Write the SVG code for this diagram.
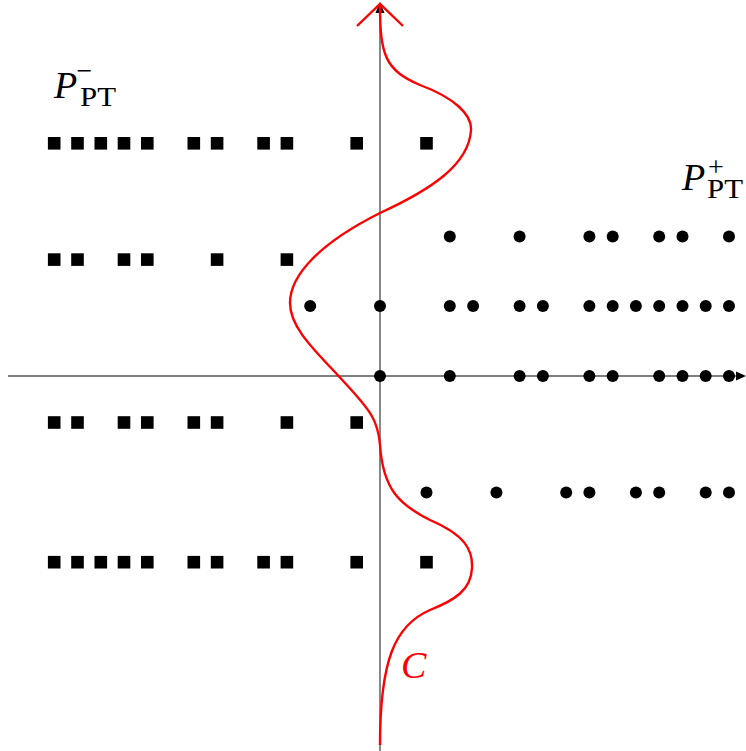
<svg xmlns="http://www.w3.org/2000/svg" width="746" height="751" viewBox="0 0 746 751">
<style>
.sq{fill:#000}
.dt{fill:#000}
.axis{stroke:#555;stroke-width:1.4;fill:none}
.curve{stroke:#f00;stroke-width:2.4;fill:none}
.lbl{font-family:'Liberation Serif','Times New Roman','DejaVu Serif',serif;fill:#000}
</style>
<defs>
<rect id="s" x="-6.3" y="-6.3" width="12.6" height="12.6"/>
<circle id="d" r="6"/>
</defs>
<rect width="746" height="751" fill="#fff"/>
<g id="axes">
<line class="axis" x1="8" y1="376" x2="740" y2="376"/>
<line class="axis" x1="380" y1="751" x2="380" y2="10"/>
<path d="M746,376 L736,371.5 L736,380.5 Z" fill="#000"/>
<path d="M380,2 L375.5,13 L384.5,13 Z" fill="#000"/>
</g>
<g id="squares" class="sq">
<use href="#s" x="54.2" y="143.3"/><use href="#s" x="77.5" y="143.3"/><use href="#s" x="100.8" y="143.3"/><use href="#s" x="124" y="143.3"/><use href="#s" x="147.3" y="143.3"/><use href="#s" x="193.8" y="143.3"/><use href="#s" x="217.1" y="143.3"/><use href="#s" x="263.6" y="143.3"/><use href="#s" x="286.9" y="143.3"/><use href="#s" x="356.7" y="143.3"/><use href="#s" x="426.5" y="143.3"/>
<use href="#s" x="54.2" y="259.6"/><use href="#s" x="77.5" y="259.6"/><use href="#s" x="124" y="259.6"/><use href="#s" x="147.3" y="259.6"/><use href="#s" x="217.1" y="259.6"/><use href="#s" x="286.9" y="259.6"/>
<use href="#s" x="54.2" y="422.5"/><use href="#s" x="77.5" y="422.5"/><use href="#s" x="124" y="422.5"/><use href="#s" x="147.3" y="422.5"/><use href="#s" x="193.8" y="422.5"/><use href="#s" x="217.1" y="422.5"/><use href="#s" x="286.9" y="422.5"/><use href="#s" x="356.7" y="422.5"/>
<use href="#s" x="54.2" y="562.2"/><use href="#s" x="77.5" y="562.2"/><use href="#s" x="100.8" y="562.2"/><use href="#s" x="124" y="562.2"/><use href="#s" x="147.3" y="562.2"/><use href="#s" x="193.8" y="562.2"/><use href="#s" x="217.1" y="562.2"/><use href="#s" x="263.6" y="562.2"/><use href="#s" x="286.9" y="562.2"/><use href="#s" x="356.7" y="562.2"/><use href="#s" x="426.5" y="562.2"/>
</g>
<g id="dots" class="dt">
<use href="#d" x="449.8" y="236.4"/><use href="#d" x="519.6" y="236.4"/><use href="#d" x="589.4" y="236.4"/><use href="#d" x="612.7" y="236.4"/><use href="#d" x="659.2" y="236.4"/><use href="#d" x="682.5" y="236.4"/><use href="#d" x="729" y="236.4"/>
<use href="#d" x="310.2" y="306"/><use href="#d" x="380" y="306"/><use href="#d" x="449.8" y="306"/><use href="#d" x="473.1" y="306"/><use href="#d" x="519.6" y="306"/><use href="#d" x="542.9" y="306"/><use href="#d" x="589.4" y="306"/><use href="#d" x="612.7" y="306"/><use href="#d" x="635.9" y="306"/><use href="#d" x="659.2" y="306"/><use href="#d" x="682.5" y="306"/><use href="#d" x="705.7" y="306"/><use href="#d" x="729" y="306"/>
<use href="#d" x="380" y="376"/><use href="#d" x="449.8" y="376"/><use href="#d" x="519.6" y="376"/><use href="#d" x="542.9" y="376"/><use href="#d" x="589.4" y="376"/><use href="#d" x="612.7" y="376"/><use href="#d" x="659.2" y="376"/><use href="#d" x="682.5" y="376"/><use href="#d" x="705.7" y="376"/><use href="#d" x="729" y="376"/>
<use href="#d" x="426.5" y="492.4"/><use href="#d" x="496.4" y="492.4"/><use href="#d" x="566.2" y="492.4"/><use href="#d" x="589.4" y="492.4"/><use href="#d" x="635.9" y="492.4"/><use href="#d" x="659.2" y="492.4"/><use href="#d" x="705.7" y="492.4"/><use href="#d" x="729" y="492.4"/>
</g>
<g id="contour">
<path class="curve" d="M380,745 C380,660 395,625 430,610 C455,600 471,590 472,568 C473,550 465,535 430,520 C400,505 383,490 380,445 C378,420 370,410 345,383 C320,355 290,330 290,303 C290,275 320,243 380,213 C430,190 469,165 471,130 C472,115 455,98 420,85 C385,70 380,55 380,5"/>
<path class="curve" d="M357,26 L380,4 L403,26"/>
<text class="lbl" x="401" y="678" font-style="italic" font-size="38" style="fill:#f00">C</text>
</g>
<g id="label-minus">
<text class="lbl" x="54" y="98" font-size="38" font-style="italic">P</text>
<text class="lbl" x="80" y="106" font-size="27" textLength="36" lengthAdjust="spacingAndGlyphs">PT</text>
<text class="lbl" x="84.5" y="80" font-size="28" text-anchor="middle">−</text>
</g>
<g id="label-plus">
<text class="lbl" x="682" y="190" font-size="38" font-style="italic">P</text>
<text class="lbl" x="707" y="198" font-size="27" textLength="36" lengthAdjust="spacingAndGlyphs">PT</text>
<text class="lbl" x="716" y="176" font-size="28" text-anchor="middle">+</text>
</g>
</svg>
